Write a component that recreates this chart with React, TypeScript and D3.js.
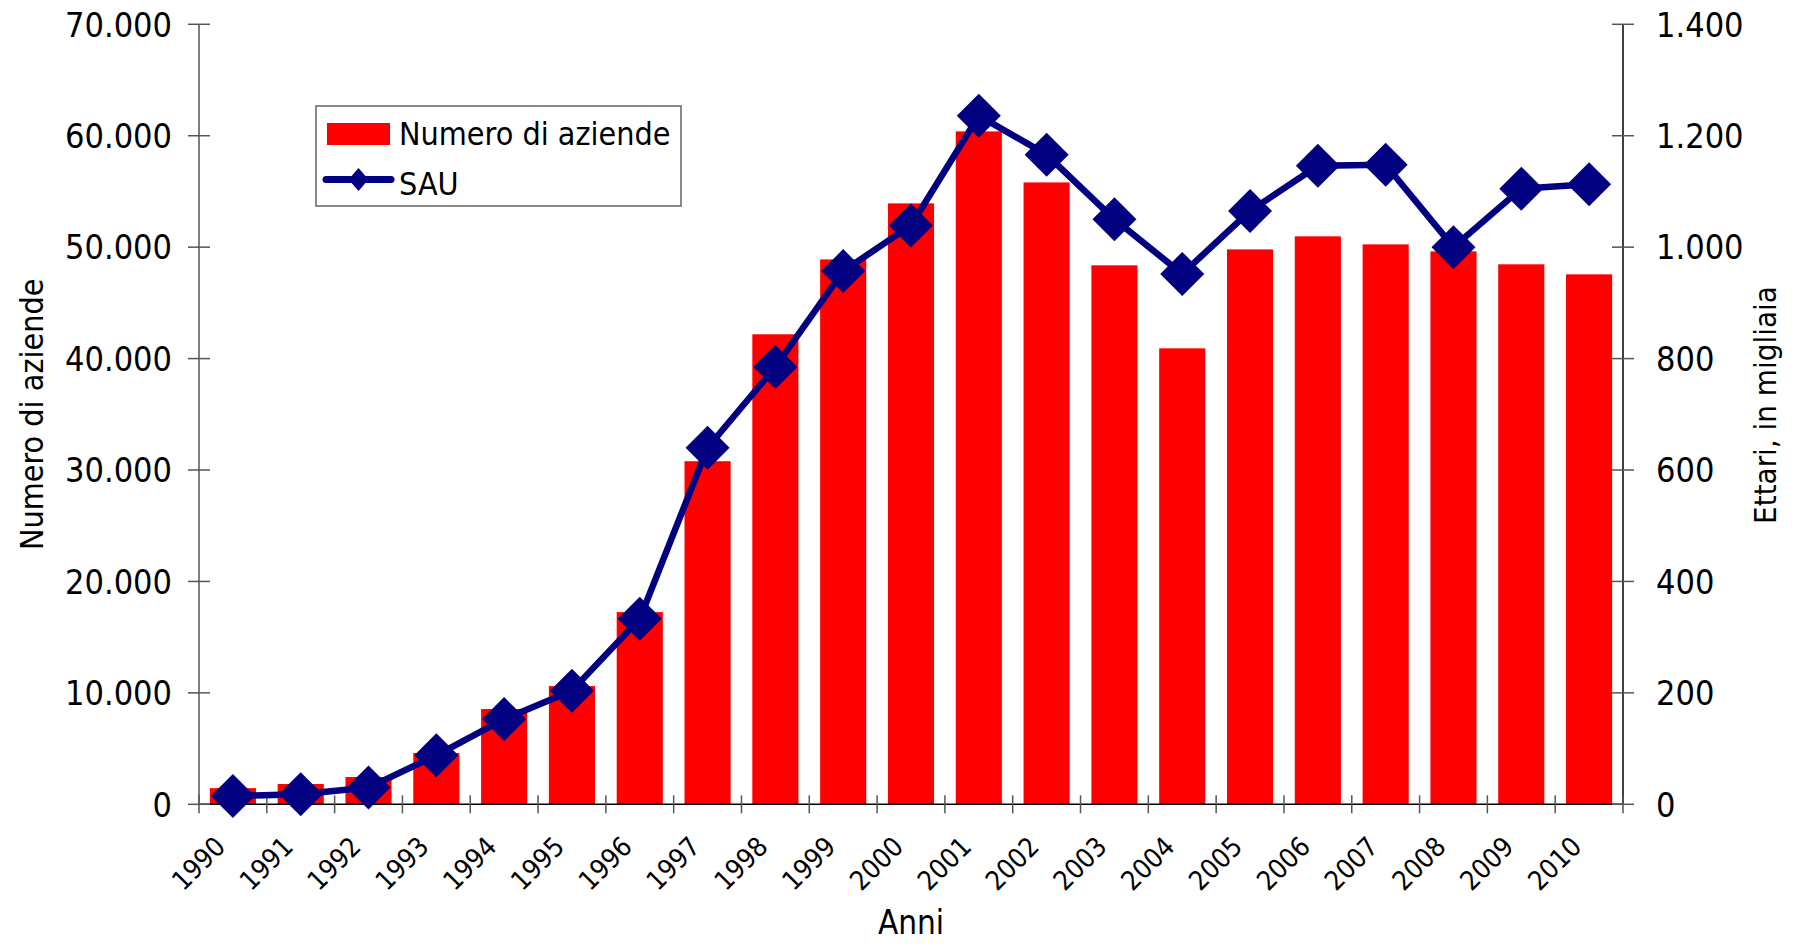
import React from "react";
import * as d3 from "d3";

const years = ["1990","1991","1992","1993","1994","1995","1996","1997","1998","1999","2000","2001","2002","2003","2004","2005","2006","2007","2008","2009","2010"];
const aziende = [1450, 1820, 2450, 4600, 8550, 10610, 17250, 30790, 42180, 48900, 53930, 60390, 55810, 48370, 40920, 49800, 50970, 50250, 49620, 48460, 47560];
const sau = [15, 18, 30, 88, 153, 204, 333, 640, 785, 957, 1039, 1236, 1166, 1050, 952, 1065, 1146, 1148, 1000, 1105, 1113];
const leftTicks = [0, 10000, 20000, 30000, 40000, 50000, 60000, 70000];
const rightTicks = [0, 200, 400, 600, 800, 1000, 1200, 1400];

const W = 1793, H = 946;
const X0 = 199, X1 = 1623, Y0 = 804.3, Y1 = 24.3;
const FONT = "'DejaVu Sans Condensed', 'DejaVu Sans', sans-serif";

const it = d3.formatLocale({ decimal: ",", thousands: ".", grouping: [3], currency: ["€", ""] });
const fmt = it.format(",d");

export default function App() {
  const x = d3.scaleBand<string>().domain(years).range([X0, X1]).paddingInner(0.32).paddingOuter(0.16);
  const step = (X1 - X0) / years.length;
  const yL = d3.scaleLinear().domain([0, 70000]).range([Y0, Y1]);
  const yR = d3.scaleLinear().domain([0, 1400]).range([Y0, Y1]);
  const cx = (i: number) => (x(years[i]) as number) + x.bandwidth() / 2;
  const line = d3.line<number>().x((_, i) => cx(i)).y((d) => yR(d));
  const diamond = (px: number, py: number, r: number, rx?: number) => {
    const w = rx ?? r;
    return `M${px},${py - r}L${px + w},${py}L${px},${py + r}L${px - w},${py}Z`;
  };
  const boundaries = d3.range(years.length + 1).map((i) => X0 + i * step);

  return (
    <svg width={W} height={H} style={{ position: "absolute", left: 0, top: 0, display: "block", background: "#fff" }} fontFamily={FONT}>
      {aziende.map((v, i) => (
        <rect key={"b" + i} x={x(years[i])} y={yL(v)} width={x.bandwidth()} height={Y0 - yL(v)} fill="#FF0000" />
      ))}
      <line x1={X0} x2={X0} y1={Y1} y2={Y0} stroke="#555" strokeWidth={1.5} />
      <line x1={X1} x2={X1} y1={Y1} y2={Y0} stroke="#000" strokeWidth={1.5} />
      <line x1={X0} x2={X1} y1={Y0} y2={Y0} stroke="#000" strokeWidth={1.5} />
      {leftTicks.map((t) => (
        <g key={"l" + t}>
          <line x1={X0 - 11} x2={X0 + 11} y1={yL(t)} y2={yL(t)} stroke="#555" strokeWidth={1.5} />
          <text x={X0 - 27} y={yL(t)} dy="0.36em" textAnchor="end" fontSize={34} fill="#000">{fmt(t)}</text>
        </g>
      ))}
      {rightTicks.map((t) => (
        <g key={"r" + t}>
          <line x1={X1 - 11} x2={X1 + 11} y1={yR(t)} y2={yR(t)} stroke="#555" strokeWidth={1.5} />
          <text x={X1 + 33} y={yR(t)} dy="0.36em" textAnchor="start" fontSize={34} fill="#000">{fmt(t)}</text>
        </g>
      ))}
      {boundaries.map((bx, i) => (
        <line key={"t" + i} x1={bx} x2={bx} y1={Y0 - 9} y2={Y0 + 9} stroke="#555" strokeWidth={1.5} />
      ))}
      {years.map((yr, i) => (
        <text key={"x" + yr} transform={`translate(${cx(i) - 6},${Y0 + 44}) rotate(-45)`} textAnchor="end" fontSize={27} fill="#000">{yr}</text>
      ))}
      <path d={line(sau) || ""} fill="none" stroke="#000080" strokeWidth={6.5} strokeLinejoin="round" />
      {sau.map((v, i) => (
        <path key={"m" + i} d={diamond(cx(i), yR(v), 22)} fill="#000080" />
      ))}
      <text x={(X0 + X1) / 2} y={934} textAnchor="middle" fontSize={33} fill="#000">Anni</text>
      <text transform={`translate(43,${(Y0 + Y1) / 2}) rotate(-90)`} textAnchor="middle" fontSize={32} fill="#000">Numero di aziende</text>
      <text transform={`translate(1776,405) rotate(-90)`} textAnchor="middle" fontSize={31} fill="#000">Ettari, in migliaia</text>
      <rect x={316} y={106} width={365} height={100} fill="#fff" stroke="#666" strokeWidth={1.5} />
      <rect x={327} y={123} width={63} height={22} fill="#FF0000" />
      <text x={399} y={145} fontSize={32} fill="#000">Numero di aziende</text>
      <line x1={326} x2={391} y1={179.5} y2={179.5} stroke="#000080" strokeWidth={7} strokeLinecap="round" />
      <path d={diamond(358.5, 179.5, 11.5, 10)} fill="#000080" />
      <text x={399} y={195} fontSize={32} fill="#000">SAU</text>
    </svg>
  );
}
